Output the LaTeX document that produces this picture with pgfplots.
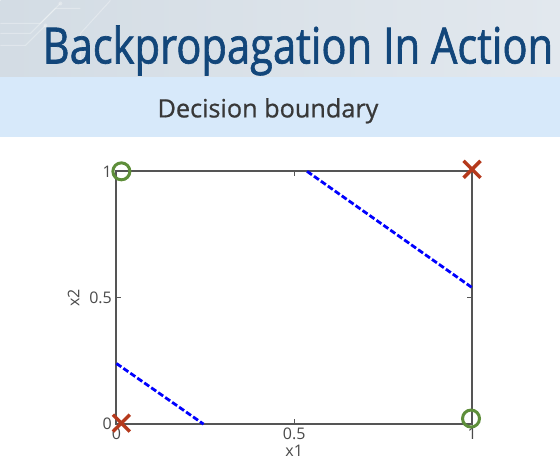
\documentclass[border=0pt]{standalone}
\usepackage{pgfplots}
\pgfplotsset{compat=1.18}
\usepackage{fontspec}
\setmainfont{Open Sans}
\newfontfamily\titlefont[FakeBold=1.4]{Open Sans}
\newfontfamily\subfont[FakeBold=0.8]{Open Sans}
\definecolor{titleblue}{HTML}{12467A}
\definecolor{subtext}{HTML}{383838}
\definecolor{bandL}{HTML}{D3DCE4}
\definecolor{bandR}{HTML}{E2E8EE}
\definecolor{subband}{HTML}{D7E9FA}
\definecolor{axgray}{HTML}{555555}
\definecolor{lblgray}{HTML}{4A4A4A}
\definecolor{mkgreen}{HTML}{5E8E3A}
\definecolor{mkred}{HTML}{B5391C}
\begin{document}
\begin{tikzpicture}[x=1pt,y=1pt]
% slide background
\fill[white] (0,0) rectangle (560,463);
\shade[left color=bandL, right color=bandR] (0,386) rectangle (560,463);
% faint circuit traces, top left
\begin{scope}[white, opacity=0.3, line width=1pt]
  \draw (0,440) -- (40,440) -- (60,460);
  \draw (0,430) -- (30,430) -- (55,455) -- (80,455);
  \draw (0,418) -- (25,418) -- (45,438);
  \draw (110,463) -- (80,430) -- (80,400);
  \fill (60,460) circle (2pt) (45,438) circle (2pt) (80,400) circle (2pt);
\end{scope}
\fill[subband] (0,326) rectangle (560,386);
\node[anchor=base west, inner sep=0, text=titleblue] at (42,400)
  {\resizebox{511pt}{38pt}{\titlefont\fontsize{50}{60}\selectfont Backpropagation In Action}};
\node[anchor=base west, inner sep=0, text=subtext] at (157,346)
  {\resizebox{221pt}{!}{\subfont\fontsize{28}{34}\selectfont Decision boundary}};
\begin{axis}[
  at={(116pt,39pt)}, anchor=south west,
  scale only axis, width=356pt, height=253pt,
  xmin=0, xmax=1, ymin=0, ymax=1,
  xtick={0,0.5,1}, ytick={0,0.5,1},
  tick align=inside, major tick length=5pt,
  axis line style={draw=axgray, line width=1.8pt},
  tick style={axgray, line width=1pt},
  ticklabel style={font=\fontsize{16}{16}\selectfont, text=lblgray},
  yticklabel style={xshift=-1pt},
  /pgf/number format/assume math mode=true,
  xlabel={x1}, ylabel={x2},
  label style={font=\fontsize{16}{16}\selectfont, text=lblgray},
  xlabel style={yshift=1pt},
  ylabel style={yshift=3pt},
  clip=false,
]
\addplot[blue, line width=2.8pt, dash pattern=on 6pt off 2.5pt]
  coordinates {(0,0.24) (0.245,0)};
\addplot[blue, line width=2.8pt, dash pattern=on 6pt off 2.5pt]
  coordinates {(0.536,1) (1,0.54)};
\addplot[only marks, mark=o, mark size=8.5pt, draw=mkgreen, line width=3pt]
  coordinates {(0.014,1) (0.997,0.022)};
\addplot[only marks, mark=x, mark size=12pt, draw=mkred, line width=3.5pt]
  coordinates {(0.014,0.004) (1,1.008)};
\end{axis}
\end{tikzpicture}
\end{document}
